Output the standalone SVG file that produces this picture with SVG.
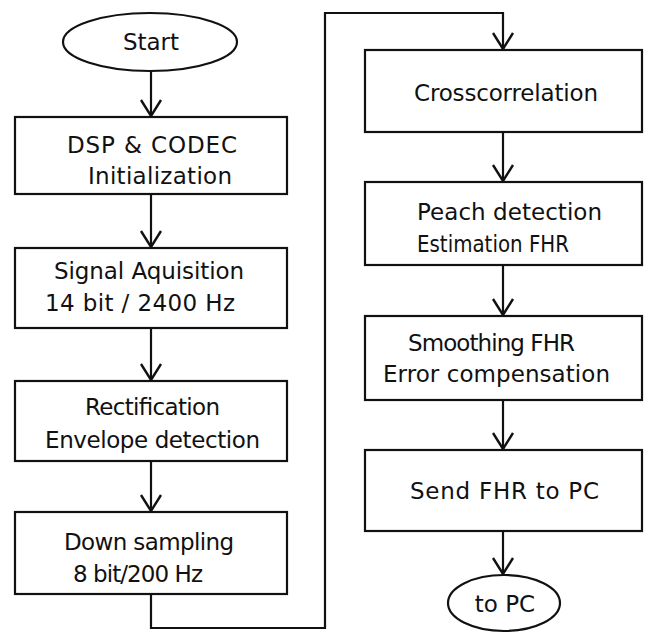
<svg xmlns="http://www.w3.org/2000/svg" width="649" height="639" viewBox="0 0 649 639">
<defs>
<style>
.box{fill:#fff;stroke:#111;stroke-width:2.2}
.t{font-family:"DejaVu Sans","Liberation Sans",sans-serif;font-size:23px;fill:#111}
.c{fill:none;stroke:#111;stroke-width:2.2}
</style>
<marker id="arr" markerUnits="userSpaceOnUse" markerWidth="40" markerHeight="40" refX="0" refY="0" orient="auto" overflow="visible" viewBox="-20 -20 40 40">
<path d="M-16,-10 L0,0 L-16,10" fill="none" stroke="#111" stroke-width="2.4"/>
</marker>
</defs>
<rect width="649" height="639" fill="#fff"/>
<g id="connectors">
<path class="c" d="M151,72 V116" marker-end="url(#arr)"/>
<path class="c" d="M151,194 V247" marker-end="url(#arr)"/>
<path class="c" d="M151,328 V380" marker-end="url(#arr)"/>
<path class="c" d="M151,461 V511" marker-end="url(#arr)"/>
<path class="c" d="M151,594 V628 H325 V13 H503 V49" marker-end="url(#arr)"/>
<path class="c" d="M503,132 V181" marker-end="url(#arr)"/>
<path class="c" d="M503,265 V315" marker-end="url(#arr)"/>
<path class="c" d="M503,400 V449" marker-end="url(#arr)"/>
<path class="c" d="M503,531 V574" marker-end="url(#arr)"/>
</g>
<g id="start">
<ellipse class="box" cx="150" cy="42" rx="87" ry="29"/>
<text class="t" x="151" y="50" text-anchor="middle">Start</text>
</g>
<g id="init">
<rect class="box" x="15" y="117" width="272" height="77"/>
<text class="t" x="67" y="153" textLength="170" lengthAdjust="spacing">DSP &amp; CODEC</text>
<text class="t" x="88" y="184" textLength="144" lengthAdjust="spacing">Initialization</text>
</g>
<g id="acq">
<rect class="box" x="15" y="248" width="272" height="80"/>
<text class="t" x="54" y="279" textLength="190" lengthAdjust="spacing">Signal Aquisition</text>
<text class="t" x="45" y="311" textLength="190" lengthAdjust="spacing">14 bit / 2400 Hz</text>
</g>
<g id="rect">
<rect class="box" x="15" y="381" width="272" height="80"/>
<text class="t" x="85" y="415" textLength="135" lengthAdjust="spacing">Rectification</text>
<text class="t" x="45" y="448" textLength="215" lengthAdjust="spacing">Envelope detection</text>
</g>
<g id="down">
<rect class="box" x="15" y="512" width="272" height="82"/>
<text class="t" x="64" y="550" textLength="170" lengthAdjust="spacing">Down sampling</text>
<text class="t" x="73" y="582" textLength="130" lengthAdjust="spacing">8 bit/200 Hz</text>
</g>
<g id="xcorr">
<rect class="box" x="365" y="50" width="277" height="82"/>
<text class="t" x="414" y="101" textLength="184" lengthAdjust="spacing">Crosscorrelation</text>
</g>
<g id="peak">
<rect class="box" x="365" y="182" width="277" height="83"/>
<text class="t" x="417" y="220" textLength="185" lengthAdjust="spacing">Peach detection</text>
<text class="t" x="417" y="252" textLength="152" lengthAdjust="spacingAndGlyphs">Estimation FHR</text>
</g>
<g id="smooth">
<rect class="box" x="365" y="316" width="277" height="84"/>
<text class="t" x="408" y="351" textLength="167" lengthAdjust="spacing">Smoothing FHR</text>
<text class="t" x="383" y="382" textLength="227" lengthAdjust="spacing">Error compensation</text>
</g>
<g id="send">
<rect class="box" x="365" y="450" width="277" height="81"/>
<text class="t" x="410" y="499" textLength="189" lengthAdjust="spacing">Send FHR to PC</text>
</g>
<g id="end">
<ellipse class="box" cx="504" cy="603" rx="56" ry="28"/>
<text class="t" x="505" y="612" text-anchor="middle">to PC</text>
</g>
</svg>
